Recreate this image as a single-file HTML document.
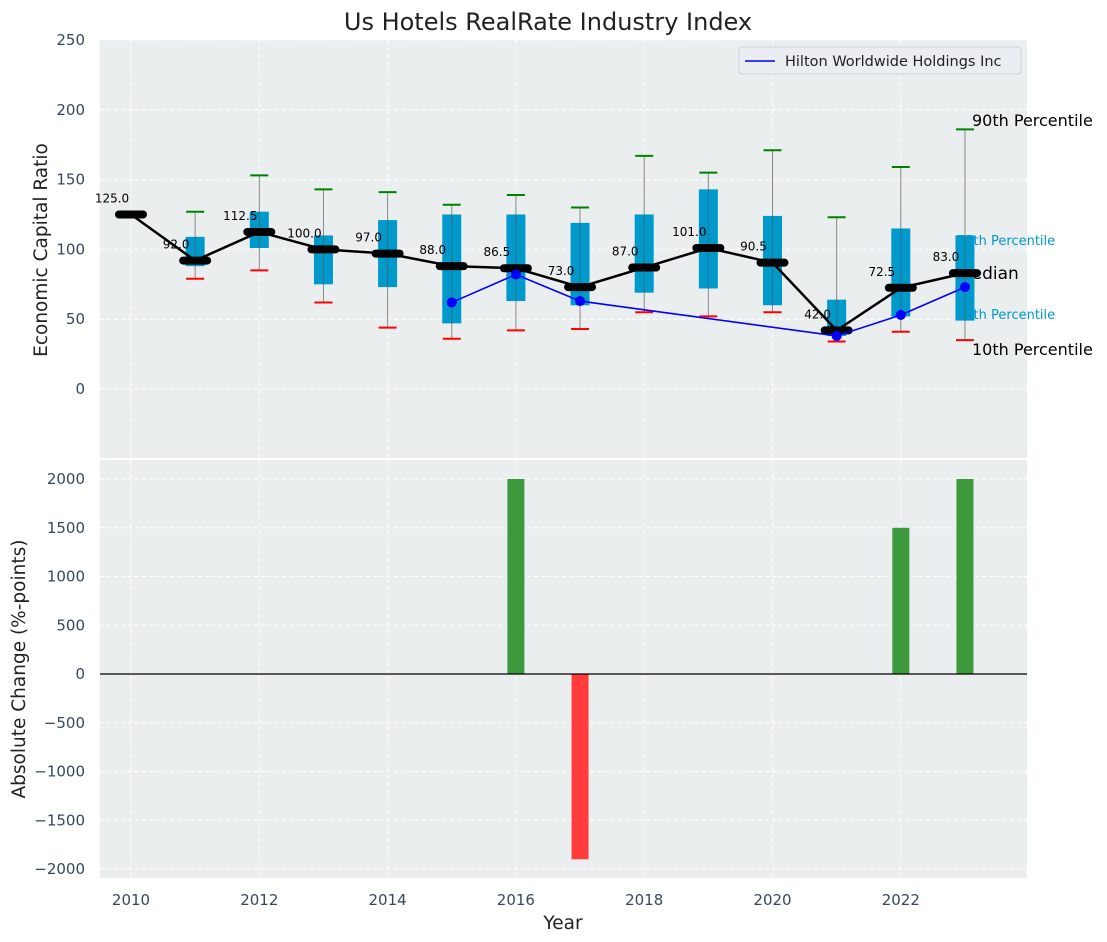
<!DOCTYPE html>
<html><head><meta charset="utf-8"><style>
body{margin:0;background:#fff;}
svg{display:block;font-family:"DejaVu Sans","Liberation Sans",sans-serif;}
</style></head><body>
<svg id="c" width="1107" height="942" viewBox="0 0 1107 942"></svg>
<script>
const years=[2010,2011,2012,2013,2014,2015,2016,2017,2018,2019,2020,2021,2022,2023];
const medians=[125,92,112.5,100,97,88,86.5,73,87,101,90.5,42,72.5,83];
const q25=[null,88,101,75,73,47,63,60,69,72,60,38,52,49];
const q75=[null,109,127,110,121,125,125,119,125,143,124,64,115,110];
const p10=[null,79,85,62,44,36,42,43,55,52,55,34,41,35];
const p90=[null,127,153,143,141,132,139,130,167,155,171,123,159,186];
const hiltonYears=[2015,2016,2017,2021,2022,2023];
const hiltonVals=[62,82,63,38,53,73];
const changeYears=[2016,2017,2022,2023];
const changeVals=[2000,-1900,1500,2000];
const topTicks=[0,50,100,150,200,250];
const botTicks=[-2000,-1500,-1000,-500,0,500,1000,1500,2000];
const xTicks=[2010,2012,2014,2016,2018,2020,2022];

const svg=document.getElementById('c');
const NS='http://www.w3.org/2000/svg';
function el(t,a,p){const e=document.createElementNS(NS,t);for(const k in a)e.setAttribute(k,a[k]);(p||svg).appendChild(e);return e;}
const L=100,R=1027;
const X=v=>131+(v-2010)*64.15;
const T1=40,B1=458, Y1=v=>389-v*1.396;
const T2=460,B2=878, Y2=v=>674-v*0.0975;

let bg1=el('rect',{x:L,y:T1,width:R-L,height:B1-T1,fill:'#eaeeef'});

let bg2=el('rect',{x:L,y:T2,width:R-L,height:B2-T2,fill:'#eaeeef'});


for(let yr=2010;yr<=2023;yr+=2){
  let g=el('line',{x1:X(yr),x2:X(yr),y1:T1,y2:B1,stroke:'#fff','stroke-dasharray':'4,3','stroke-width':1});
  
  let g2=el('line',{x1:X(yr),x2:X(yr),y1:T2,y2:B2,stroke:'#fff','stroke-dasharray':'4,3','stroke-width':1});
  
}
for(const t of topTicks){
  let g=el('line',{x1:L,x2:R,y1:Y1(t),y2:Y1(t),stroke:'#fff','stroke-dasharray':'4,3'});
  
  let tx=el('text',{x:85,y:Y1(t)+5,'text-anchor':'end','font-size':15,fill:'#34495e'});tx.textContent=t;
  
}
for(const t of botTicks){
  let g=el('line',{x1:L,x2:R,y1:Y2(t),y2:Y2(t),stroke:'#fff','stroke-dasharray':'4,3'});
  
  let tx=el('text',{x:85,y:Y2(t)+5,'text-anchor':'end','font-size':15,fill:'#34495e'});tx.textContent=(t<0?'\u2212'+(-t):t);
  
}
for(const t of xTicks){
  let tx=el('text',{x:X(t),y:905,'text-anchor':'middle','font-size':15,fill:'#34495e'});tx.textContent=t;
  
}

function ann(txt,x,y,size,color,name){let t=el('text',{x:x,y:y,'font-size':size,fill:color});t.textContent=txt;}
ann('90th Percentile',972,126,16,'#000','annotation-90th');
ann('75th Percentile',957,245,13,'#0099cc','annotation-75th');
ann('Median',957,279,17,'#000','annotation-median');
ann('25th Percentile',957,319,13,'#0099cc','annotation-25th');
ann('10th Percentile',972,355,16,'#000','annotation-10th');

years.forEach((yr,i)=>{
  if(q25[i]===null)return;
  const x=X(yr);
  let w=el('line',{x1:x,x2:x,y1:Y1(p90[i]),y2:Y1(p10[i]),stroke:'#888','stroke-width':1});
  
  let b=el('rect',{x:x-9.5,y:Y1(q75[i]),width:19,height:Y1(q25[i])-Y1(q75[i]),fill:'#0099cc'});
  
  let w2=el('line',{x1:x,x2:x,y1:Y1(q75[i]),y2:Y1(q25[i]),stroke:'#555','stroke-width':1,'stroke-opacity':0.6});
  
  let c1=el('line',{x1:x-9,x2:x+9,y1:Y1(p90[i]),y2:Y1(p90[i]),stroke:'green','stroke-width':2});
  
  let c2=el('line',{x1:x-9,x2:x+9,y1:Y1(p10[i]),y2:Y1(p10[i]),stroke:'red','stroke-width':2});
  
});

let mp=el('polyline',{points:years.map((y,i)=>X(y)+','+Y1(medians[i])).join(' '),fill:'none',stroke:'#000','stroke-width':2.5});

years.forEach((yr,i)=>{
  let m=el('line',{x1:X(yr)-12,x2:X(yr)+12,y1:Y1(medians[i]),y2:Y1(medians[i]),stroke:'#000','stroke-width':8,'stroke-linecap':'round'});
  
  let t=el('text',{x:X(yr)-19,y:Y1(medians[i])-12,'text-anchor':'middle','font-size':12,fill:'#000'});t.textContent=medians[i].toFixed(1);
  
});

let hp=el('polyline',{points:hiltonYears.map((y,i)=>X(y)+','+Y1(hiltonVals[i])).join(' '),fill:'none',stroke:'#0000ff','stroke-width':1.6});

hiltonYears.forEach((yr,i)=>{
  let c=el('circle',{cx:X(yr),cy:Y1(hiltonVals[i]),r:5,fill:'#0000ff'});
  
});

let lg=el('g',{});
el('rect',{x:739,y:47,width:282,height:27,rx:3,fill:'#eaeef2',stroke:'#d0d4d8'},lg);
el('line',{x1:745,x2:775,y1:61,y2:61,stroke:'#0000ff','stroke-width':1.6},lg);
let lt=el('text',{x:785,y:66,'font-size':14.5,fill:'#222'},lg);lt.textContent='Hilton Worldwide Holdings Inc';


changeYears.forEach((yr,i)=>{
  const v=changeVals[i];
  let b=el('rect',{x:X(yr)-8.5,y:Math.min(Y2(v),Y2(0)),width:17,height:Math.abs(Y2(v)-Y2(0)),fill:v>=0?'#3c9a3c':'#ff3b3b'});
  
});
let z=el('line',{x1:L,x2:R,y1:Y2(0),y2:Y2(0),stroke:'#000','stroke-width':1.2});


let tt=el('text',{x:548,y:30,'text-anchor':'middle','font-size':24,fill:'#222'});tt.textContent='Us Hotels RealRate Industry Index';

let y1=el('text',{x:0,y:0,transform:'translate(47,250) rotate(-90)','text-anchor':'middle','font-size':18.5,fill:'#222'});y1.textContent='Economic Capital Ratio';

let y2=el('text',{x:0,y:0,transform:'translate(25,669) rotate(-90)','text-anchor':'middle','font-size':18.5,fill:'#222'});y2.textContent='Absolute Change (%-points)';

let xt=el('text',{x:563,y:929,'text-anchor':'middle','font-size':18.5,fill:'#222'});xt.textContent='Year';

</script>
</body></html>
